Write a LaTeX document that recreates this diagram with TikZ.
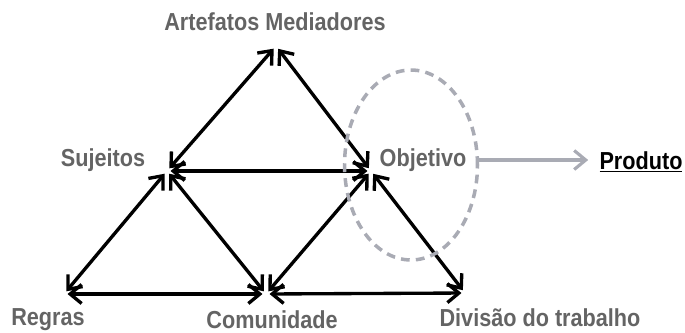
\documentclass[tikz,border=0pt]{standalone}
\usepackage{fontspec}
\setmainfont{Liberation Sans}[FakeStretch = 0.88]
\usetikzlibrary{arrows.meta,positioning,shapes.geometric}
\definecolor{txtgray}{HTML}{646464}
\definecolor{ringgray}{HTML}{A9ABB4}

\begin{document}
\begin{tikzpicture}
    [x = 0.02cm, y = -0.02cm,
     every node/.style = {font = \bfseries\fontsize{14}{16}\selectfont, text = txtgray, inner sep = 0pt},
     barb/.tip = {Straight Barb[length = 2.3mm, width = 3.8mm]},
     link/.style = {barb-barb, line width = 1.9pt, shorten <= 2pt, shorten >= 2pt}]
    \useasboundingbox (0,0) rectangle (685,332);
    % vertices of the triangles
    \coordinate (art) at (276,46);
    \coordinate (suj) at (167,171);
    \coordinate (obj) at (371,171);
    \coordinate (reg) at (64,294);
    \coordinate (com) at (266,294);
    \coordinate (div) at (465,293);
    % labels
    \node (lart) at (275,22) {Artefatos Mediadores};
    \node (lsuj) at (103,160) {Sujeitos};
    \node (lobj) at (423,160) {Objetivo};
    \node (lreg) at (48,320) {Regras};
    \node (lcom) at (272,320) {Comunidade};
    \node (ldiv) at (540,318) {Divisão do trabalho};
    \node[text = black] (lprod) at (641,162) {\underline{Produto}};
    \foreach \from/ \to in {art/suj,art/obj,suj/obj,suj/reg,suj/com,obj/com,obj/div,reg/com,com/div}
      \draw[link] (\from) -- (\to);
    % dashed ring round the object
    \node[ellipse, draw = ringgray, line width = 2pt, dash pattern = on 5pt off 3.5pt,
          minimum width = 2.66cm, minimum height = 3.8cm] (ring) at (411,165) {};
    \draw[-barb, ringgray, line width = 1.8pt, shorten >= 0.22cm] (ring.east |- lobj) -- (lprod.west |- lobj);
\end{tikzpicture}
\end{document}
